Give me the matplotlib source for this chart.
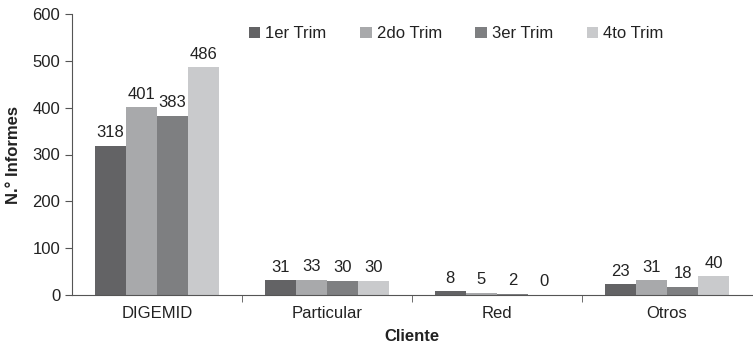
import matplotlib
matplotlib.use("Agg")
import matplotlib.pyplot as plt
import numpy as np
from matplotlib import font_manager

names = {f.name for f in font_manager.fontManager.ttflist}
fam = "Liberation Sans Narrow" if "Liberation Sans Narrow" in names else "Liberation Sans"
plt.rcParams['font.family'] = [fam, 'DejaVu Sans']

categories = ["DIGEMID", "Particular", "Red", "Otros"]
series_names = ["1er Trim", "2do Trim", "3er Trim", "4to Trim"]
trim1 = [318, 31, 8, 23]
trim2 = [401, 33, 5, 31]
trim3 = [383, 30, 2, 18]
trim4 = [486, 30, 0, 40]
colors = ["#636365", "#a8a9ab", "#7e7f81", "#c9cacc"]

fs = 12
fig = plt.figure(figsize=(7.53, 3.53), dpi=100)
ax = fig.add_axes([72/753, 58/353, (752-72)/753, (295-14)/353])

x = np.arange(len(categories))
w = 0.183
data = [trim1, trim2, trim3, trim4]
for i, (vals, c, n) in enumerate(zip(data, colors, series_names)):
    pos = x + (i - 1.5) * w
    ax.bar(pos, vals, width=w, color=c, label=n, edgecolor='none')
    for p, v in zip(pos, vals):
        ax.text(p, v + 12, str(v), ha='center', va='bottom', fontsize=fs, color='#222222')

ax.set_xlim(-0.5, len(categories) - 0.5)
ax.set_ylim(0, 600)
ax.set_yticks(range(0, 601, 100))
ax.set_xticks(x)
ax.set_xticklabels(categories, fontsize=fs, color='#222222')
ax.set_xticks(np.arange(0.5, len(categories) - 0.5), minor=True)
ax.tick_params(axis='x', which='major', length=0, pad=8)
ax.tick_params(axis='x', which='minor', length=5, color='#555555')
ax.tick_params(axis='y', length=5, color='#555555', labelsize=fs, labelcolor='#222222')
for s in ['top', 'right']:
    ax.spines[s].set_visible(False)
for s in ['left', 'bottom']:
    ax.spines[s].set_color('#555555')
ax.set_ylabel("N.° Informes", fontsize=fs, fontweight='bold', color='#222222', labelpad=8)
ax.set_xlabel("Cliente", fontsize=fs, fontweight='bold', color='#222222', labelpad=6)

leg = ax.legend(loc='upper center', bbox_to_anchor=(0.565, 1.01), ncol=4, frameon=False,
                fontsize=fs, handlelength=0.7, handleheight=0.7, handletextpad=0.3,
                columnspacing=2.0)
for t in leg.get_texts():
    t.set_color('#222222')

fig.savefig("out.png", dpi=100)
